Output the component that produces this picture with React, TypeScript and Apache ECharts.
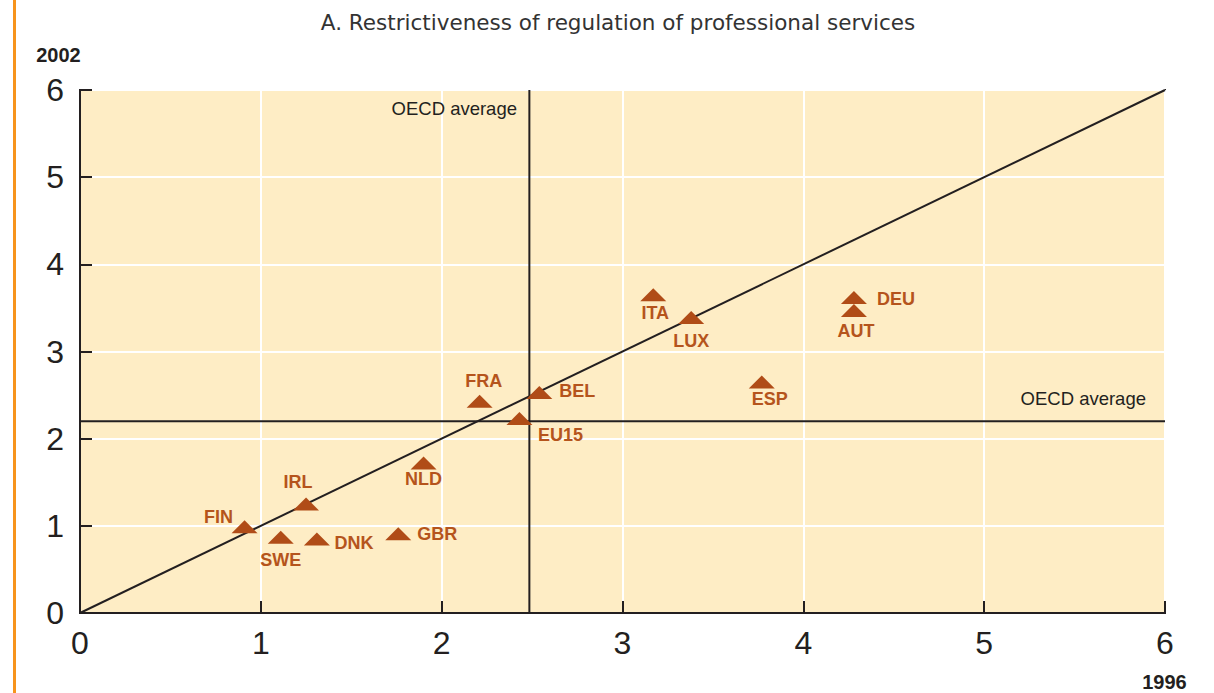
import React, { useEffect, useRef } from "react";
import * as echarts from "echarts";

const countries = ["FIN", "SWE", "DNK", "GBR", "IRL", "NLD", "FRA", "BEL", "EU15", "ITA", "LUX", "DEU", "AUT", "ESP"];
const values1996 = [0.91, 1.11, 1.31, 1.76, 1.25, 1.9, 2.21, 2.54, 2.43, 3.17, 3.38, 4.28, 4.28, 3.77];
const values2002 = [0.99, 0.87, 0.85, 0.91, 1.25, 1.72, 2.43, 2.53, 2.23, 3.65, 3.39, 3.62, 3.47, 2.65];
const oecdAverage1996 = 2.485;
const oecdAverage2002 = 2.2;
const axisTicks = [0, 1, 2, 3, 4, 5, 6];

// label offsets (pixels, relative to marker centre)
const labelOffsets: Record<string, [number, number]> = {
  FIN: [-26, -10],
  SWE: [0, 23],
  DNK: [37, 4],
  GBR: [39, 0],
  IRL: [-8, -22],
  NLD: [0, 16],
  FRA: [4, -20],
  BEL: [38, -1],
  EU15: [41, 16],
  ITA: [2, 18],
  LUX: [0, 23],
  DEU: [42, 2],
  AUT: [2, 20],
  ESP: [8, 17],
};

export default function App() {
  const ref = useRef<HTMLDivElement>(null);
  useEffect(() => {
    if (!ref.current) return;
    const chart = echarts.init(ref.current, null, { renderer: "svg" });
    const font = "Liberation Sans, Arial, sans-serif";
    const axisMin = axisTicks[0];
    const axisMax = axisTicks[axisTicks.length - 1];
    const axisCommon = {
      type: "value" as const,
      min: axisMin,
      max: axisMax,
      interval: 1,
      axisLine: { show: true, lineStyle: { color: "#231f20", width: 2 } },
      axisTick: { show: true, inside: true, length: 12, lineStyle: { color: "#231f20", width: 2 } },
      splitLine: { show: true, lineStyle: { color: "#ffffff", width: 2 } },
      axisLabel: { color: "#231f20", fontSize: 32, fontFamily: font },
    };
    chart.setOption({
      animation: false,
      backgroundColor: "#ffffff",
      textStyle: { fontFamily: font },
      grid: {
        left: 80,
        top: 90,
        right: 49,
        bottom: 80,
        show: true,
        backgroundColor: "#feedc5",
        borderColor: "#231f20",
        borderWidth: 2,
      },
      xAxis: { ...axisCommon, axisLabel: { ...axisCommon.axisLabel, margin: 14 } },
      yAxis: { ...axisCommon, axisLabel: { ...axisCommon.axisLabel, margin: 16 } },
      graphic: [
        { type: "rect", left: 13, top: 0, shape: { width: 3, height: 693 }, style: { fill: "#f7941d" }, z: 100 },
        {
          type: "text",
          x: 618,
          y: 22,
          style: {
            text: "A. Restrictiveness of regulation of professional services",
            fill: "#333333",
            font: `21.5px DejaVu Sans, Verdana, sans-serif`,
            textAlign: "center",
            textVerticalAlign: "middle",
          },
        },
        {
          type: "text",
          x: 58.5,
          y: 55,
          style: { text: "2002", fill: "#231f20", font: `bold 20px ${font}`, textAlign: "center", textVerticalAlign: "middle" },
        },
        {
          type: "text",
          x: 1164.5,
          y: 682,
          style: { text: "1996", fill: "#231f20", font: `bold 20px ${font}`, textAlign: "center", textVerticalAlign: "middle" },
        },
        {
          type: "text",
          x: 517,
          y: 108,
          z: 50,
          style: { text: "OECD average", fill: "#231f20", font: `18.5px ${font}`, textAlign: "right", textVerticalAlign: "middle" },
        },
        {
          type: "text",
          x: 1146,
          y: 398,
          z: 50,
          style: { text: "OECD average", fill: "#231f20", font: `18.5px ${font}`, textAlign: "right", textVerticalAlign: "middle" },
        },
      ],
      series: [
        {
          type: "line",
          data: [[axisMin, axisMin], [axisMax, axisMax]],
          symbol: "none",
          lineStyle: { color: "#231f20", width: 2 },
          z: 3,
        },
        {
          type: "line",
          data: [[oecdAverage1996, axisMin], [oecdAverage1996, axisMax]],
          symbol: "none",
          lineStyle: { color: "#231f20", width: 2 },
          z: 3,
        },
        {
          type: "line",
          data: [[axisMin, oecdAverage2002], [axisMax, oecdAverage2002]],
          symbol: "none",
          lineStyle: { color: "#231f20", width: 2 },
          z: 3,
        },
        {
          type: "scatter",
          symbol: "triangle",
          symbolSize: [26, 13],
          z: 5,
          itemStyle: { color: "#b04c17", opacity: 1 },
          data: countries.map((c, i) => ({
            name: c,
            value: [values1996[i], values2002[i]],
            label: {
              show: true,
              position: "inside",
              offset: labelOffsets[c],
              formatter: c,
              color: "#b5541c",
              fontSize: 18,
              fontWeight: "bold",
              fontFamily: font,
              align: "center",
              verticalAlign: "middle",
            },
          })),
        },
      ],
    });
    return () => chart.dispose();
  }, []);
  return <div ref={ref} style={{ position: "absolute", left: 0, top: 0, width: 1214, height: 693 }} />;
}
